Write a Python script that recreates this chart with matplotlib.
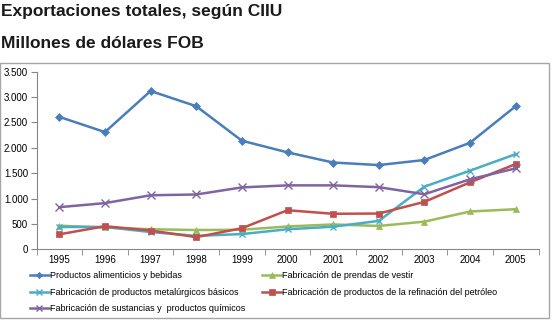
import matplotlib
matplotlib.use("Agg")
import matplotlib.pyplot as plt
from matplotlib.patches import Rectangle
from matplotlib.ticker import FuncFormatter, FixedLocator

plt.rcParams['font.family'] = ['Liberation Sans', 'DejaVu Sans']

years = ['1995', '1996', '1997', '1998', '1999', '2000', '2001', '2002', '2003', '2004', '2005']
alimenticios = [2610, 2310, 3120, 2820, 2140, 1910, 1710, 1660, 1760, 2100, 2820]
prendas = [465, 430, 395, 380, 385, 450, 490, 460, 545, 745, 790]
metalurgicos = [440, 440, 340, 265, 300, 395, 445, 560, 1235, 1550, 1875]
refinacion = [295, 455, 370, 240, 415, 770, 700, 705, 935, 1320, 1680]
quimicos = [830, 910, 1065, 1080, 1220, 1260, 1260, 1225, 1085, 1380, 1595]

labels = ['Productos alimenticios y bebidas',
          'Fabricación de prendas de vestir',
          'Fabricación de productos metalúrgicos básicos',
          'Fabricación de productos de la refinación del petróleo',
          'Fabricación de sustancias y  productos químicos']

W, H = 555, 320
fig = plt.figure(figsize=(W / 100, H / 100), dpi=100)

# outer chart frame
fig.patches.append(Rectangle((0 / W, 1 - 318 / H), 549 / W, (318 - 63) / H,
                             transform=fig.transFigure, fill=False,
                             edgecolor='#a6a6a6', linewidth=1.0))

fig.text(1 / W, 1 - 11.5 / H, 'Exportaciones totales, según CIIU', fontsize=12.5,
         fontweight='bold', va='center', ha='left', color='#1a1a1a')
fig.text(1 / W, 1 - 43.5 / H, 'Millones de dólares FOB', fontsize=12.5,
         fontweight='bold', va='center', ha='left', color='#1a1a1a')

left, right, top, bottom = 36.5, 538.5, 71.7, 249.3
ax = fig.add_axes([left / W, 1 - bottom / H, (right - left) / W, (bottom - top) / H])

x = list(range(len(years)))
series = [
    (alimenticios, '#4A7EBB', 'D', 4, labels[0]),
    (prendas, '#9BBB59', '^', 5, labels[1]),
    (metalurgicos, '#4BACC6', 'x', 5, labels[2]),
    (refinacion, '#C0504D', 's', 5, labels[3]),
    (quimicos, '#8064A2', 'x', 6, labels[4]),
]
handles = []
for vals, col, mk, ms, lab in series:
    h, = ax.plot(x, vals, color=col, marker=mk, markersize=ms, linewidth=1.8,
                 markeredgewidth=1.0 if mk == 'x' else 0.5,
                 markeredgecolor=col, label=lab)
    handles.append(h)

ax.set_xlim(-0.5, len(years) - 0.5)
ax.set_ylim(0, 3500)
ax.set_yticks(range(0, 3501, 500))
ax.yaxis.set_major_formatter(FuncFormatter(lambda v, p: f'{int(v):,}'.replace(',', '.')))
ax.set_xticks(x)
ax.set_xticklabels(years)
ax.xaxis.set_minor_locator(FixedLocator([i - 0.5 for i in range(len(years) + 1)]))
ax.tick_params(axis='x', which='major', length=0, labelsize=7, pad=4)
ax.tick_params(axis='x', which='minor', length=4, color='#868686')
ax.tick_params(axis='y', length=4, color='#868686', labelsize=7, pad=2)
for s in ['top', 'right']:
    ax.spines[s].set_visible(False)
for s in ['left', 'bottom']:
    ax.spines[s].set_color('#868686')
    ax.spines[s].set_linewidth(0.8)

order = [0, 2, 4, 1, 3]
fig.legend([handles[i] for i in order], [labels[i] for i in order],
           ncol=2, loc='upper left', bbox_to_anchor=(30 / W, 1 - 271 / H),
           frameon=False, fontsize=6.5, handlelength=2.1, handletextpad=0.1,
           columnspacing=1.9, labelspacing=0.85, borderpad=0, borderaxespad=0,
           markerscale=0.8)

fig.savefig('out.png', dpi=100)
